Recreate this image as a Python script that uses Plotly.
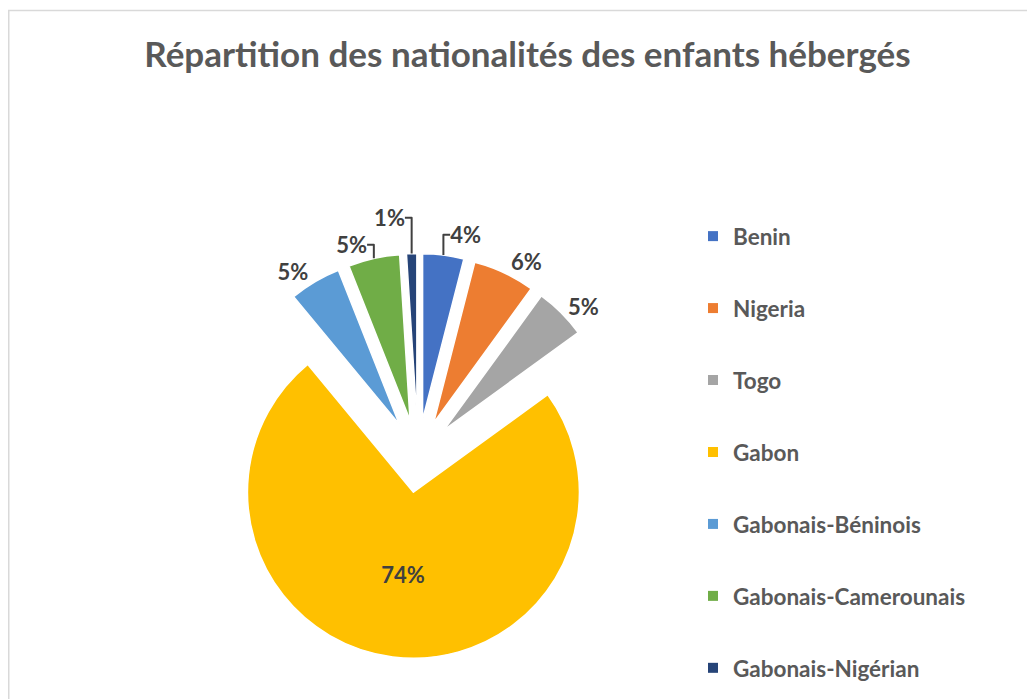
import plotly.graph_objects as go

# ---- data ----
categories = ["Benin", "Nigeria", "Togo", "Gabon", "Gabonais-Béninois",
              "Gabonais-Camerounais", "Gabonais-Nigérian"]
shares = [4, 6, 5, 74, 5, 5, 1]
colors = ["#4472C4", "#ED7D31", "#A5A5A5", "#FFC000", "#5B9BD5", "#70AD47", "#264478"]
title_text = "Répartition des nationalités des enfants hébergés"

W, H = 1035, 699
FONT = "Lato"

fig = go.Figure()

text_pos = ["inside" if s == max(shares) else "outside" for s in shares]

fig.add_trace(go.Pie(
    labels=categories,
    values=shares,
    marker=dict(colors=colors, line=dict(color="white", width=1.5)),
    sort=False,
    direction="clockwise",
    rotation=0,
    pull=0.22,
    texttemplate="%{percent:.0%}",
    textposition=text_pos,
    insidetextorientation="horizontal",
    textfont=dict(family=FONT, size=22, color="#404040", weight="bold"),
    showlegend=False,
    hoverinfo="label+percent",
    domain=dict(x=[0.2005, 0.5918], y=[0.0694, 0.6488]),
))

# legend entries (one per category, spaced like the original)
for cat, col in zip(categories, colors):
    fig.add_trace(go.Scatter(
        x=[None], y=[None], mode="markers", name=cat, legendgroup=cat,
        marker=dict(symbol="square", size=10, color=col),
        hoverinfo="skip",
    ))

fig.update_layout(
    width=W, height=H,
    margin=dict(l=0, r=0, t=0, b=0, autoexpand=False),
    paper_bgcolor="white", plot_bgcolor="white",
    xaxis=dict(visible=False), yaxis=dict(visible=False),
    title=dict(text=title_text, x=519.5 / W, xanchor="center",
               y=1 - 47 / H, yanchor="middle",
               font=dict(family=FONT, size=35, color="#595959", weight="bold")),
    legend=dict(x=685 / W, xanchor="left", y=1 - 207 / H, yanchor="top",
                font=dict(family=FONT, size=22.5, color="#595959", weight="bold"),
                tracegroupgap=39.7, bgcolor="rgba(0,0,0,0)", itemclick=False),
    shapes=[dict(type="rect", xref="paper", yref="paper",
                 x0=0.75 / W, x1=1.05, y0=-0.05, y1=1 - 2.5 / H,
                 line=dict(color="#D9D9D9", width=1.5), layer="below")],
)

fig.write_html("out.html")
